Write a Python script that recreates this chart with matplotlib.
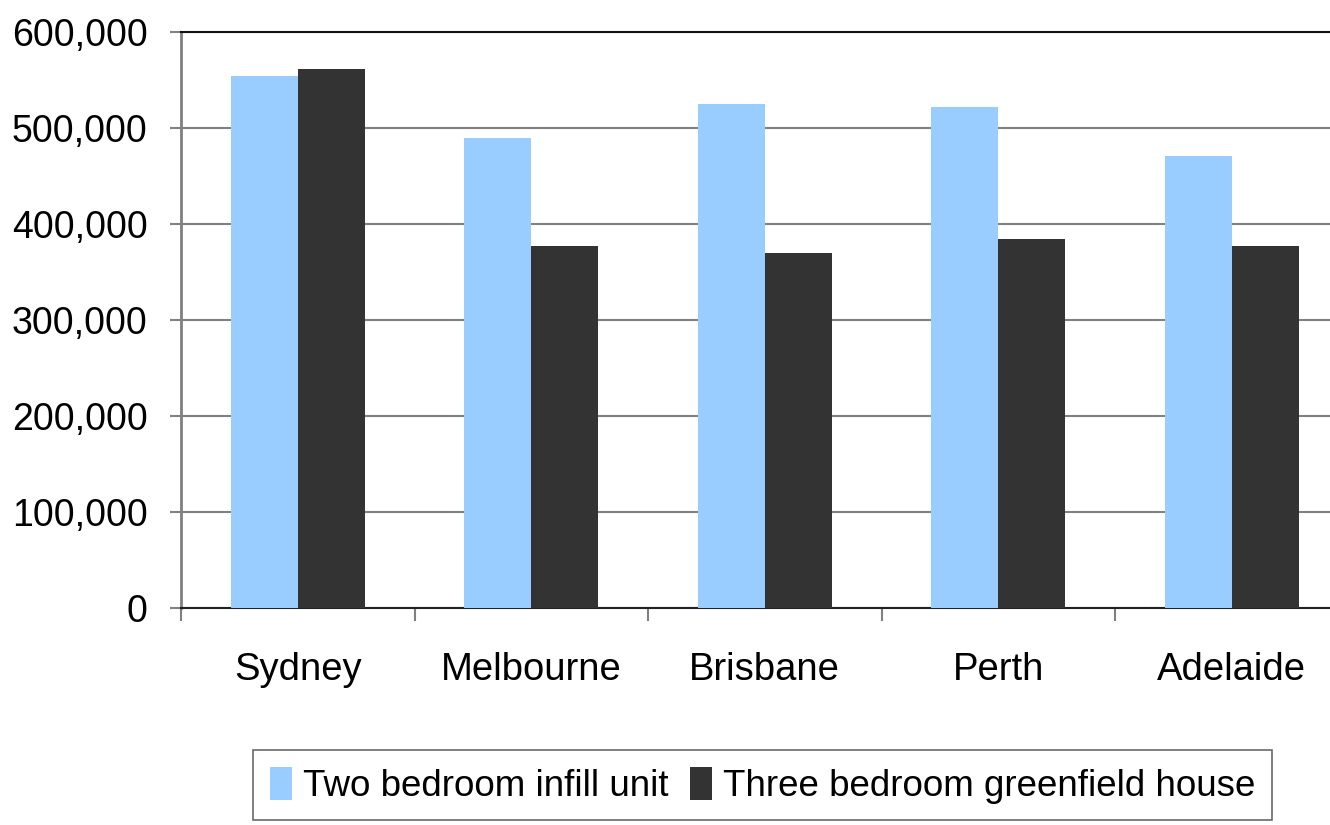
import matplotlib

matplotlib.use("Agg")
import matplotlib.pyplot as plt
import numpy as np
from matplotlib.ticker import FuncFormatter

cities = ["Sydney", "Melbourne", "Brisbane", "Perth", "Adelaide"]
infill_unit = [554000, 489500, 525000, 522000, 471000]
greenfield_house = [561500, 377000, 370000, 384500, 377000]
series_labels = ["Two bedroom infill unit", "Three bedroom greenfield house"]

plt.rcParams["font.family"] = ["Liberation Sans", "DejaVu Sans"]

W, H = 1330, 825
fig = plt.figure(figsize=(W / 100, H / 100), dpi=100)
group_px = 233.5
ax = fig.add_axes([181 / W, 1 - 608 / H, 5 * group_px / W, 576 / H])

x = np.arange(len(cities))
bw = 0.288
ax.bar(x - bw / 2, infill_unit, bw, color="#99ccff", label=series_labels[0], zorder=3)
ax.bar(x + bw / 2, greenfield_house, bw, color="#333333", label=series_labels[1], zorder=3)

ax.set_xlim(-0.5, len(cities) - 0.5)
ax.set_ylim(0, 600000)
ax.set_yticks(np.arange(0, 600001, 100000))
ax.yaxis.set_major_formatter(FuncFormatter(lambda v, p: f"{int(v):,}"))
ax.grid(axis="y", color="#808080", lw=1.5, zorder=0)

# category separators as major ticks, names on minor ticks
ax.set_xticks(np.arange(-0.5, len(cities), 1.0))
ax.set_xticklabels([])
ax.set_xticks(x, minor=True)
ax.set_xticklabels(cities, minor=True)
ax.tick_params(axis="x", which="major", length=9, width=1.5, color="#808080")
ax.tick_params(axis="x", which="minor", length=0, pad=32, labelsize=27.5)
ax.tick_params(axis="y", length=8, width=1.5, color="#808080", pad=16, labelsize=27)

ax.spines["right"].set_visible(False)
ax.spines["left"].set_color("#808080")
ax.spines["left"].set_linewidth(2)
ax.spines["bottom"].set_color("#222222")
ax.spines["bottom"].set_linewidth(1.5)
ax.spines["top"].set_color("#111111")
ax.spines["top"].set_linewidth(1.5)

leg = fig.legend(
    loc="upper left",
    bbox_to_anchor=(253 / W, 1 - 750 / H),
    ncol=2,
    fontsize=26.5,
    frameon=True,
    fancybox=False,
    handlelength=0.6,
    handleheight=1.0,
    handletextpad=0.3,
    columnspacing=0.6,
    borderpad=0.45,
    borderaxespad=0,
)
leg.get_frame().set_edgecolor("#444444")
leg.get_frame().set_linewidth(1.2)

fig.savefig("out.png", dpi=100)
